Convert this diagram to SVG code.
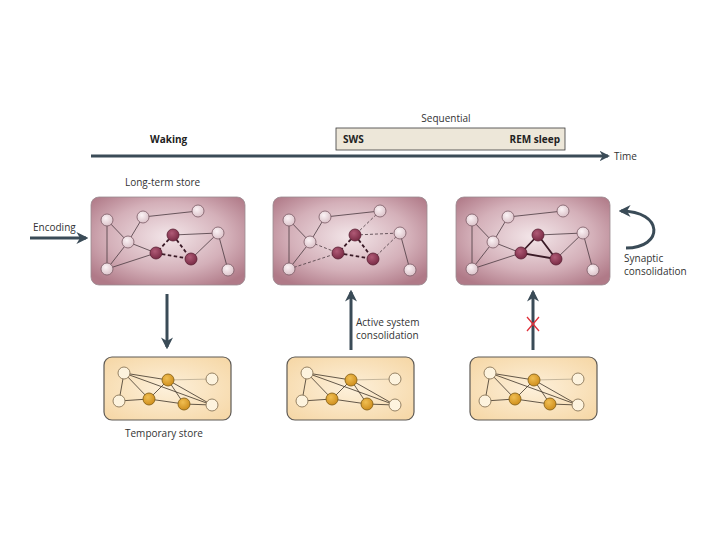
<svg xmlns="http://www.w3.org/2000/svg" width="720" height="540" viewBox="0 0 720 540">
<defs>
<radialGradient id="pink" cx="50%" cy="45%" r="65%">
<stop offset="0" stop-color="#f3e6e9"/>
<stop offset="0.6" stop-color="#d4b0b9"/>
<stop offset="1" stop-color="#b07a88"/>
</radialGradient>
<radialGradient id="tan" cx="50%" cy="50%" r="65%">
<stop offset="0" stop-color="#fdf0da"/>
<stop offset="1" stop-color="#f6d8a8"/>
</radialGradient>
<radialGradient id="ln" cx="40%" cy="35%" r="65%">
<stop offset="0" stop-color="#fbf3f5"/>
<stop offset="1" stop-color="#dcc3ca"/>
</radialGradient>
<radialGradient id="dn" cx="40%" cy="35%" r="65%">
<stop offset="0" stop-color="#b05a76"/>
<stop offset="1" stop-color="#7a2c46"/>
</radialGradient>
<radialGradient id="on" cx="40%" cy="35%" r="65%">
<stop offset="0" stop-color="#f0be52"/>
<stop offset="1" stop-color="#cf8f1e"/>
</radialGradient>
<marker id="ah" viewBox="0 0 10 10" refX="8" refY="5" markerWidth="4" markerHeight="4" orient="auto" markerUnits="strokeWidth">
<path d="M0,0 L10,5 L0,10 L3,5 Z" fill="#3a4b57"/>
</marker>
<marker id="ah2" viewBox="0 0 10 10" refX="8" refY="5" markerWidth="3.5" markerHeight="3.5" orient="auto" markerUnits="strokeWidth">
<path d="M0,0 L10,5 L0,10 L3,5 Z" fill="#3a4b57"/>
</marker>
<g id="ltnodes-light">
</g>
</defs>
<style>
text{font-family:"Open Sans","Liberation Sans",sans-serif;font-size:10px;fill:#333;}
.b{font-weight:bold;font-size:10px;fill:#222;}
.ltbox{fill:url(#pink);stroke:#9a8a90;stroke-width:0.8;}
.tbox{fill:url(#tan);stroke:#5e5a55;stroke-width:1.2;}
.ln{fill:url(#ln);stroke:#7a5a64;stroke-width:0.8;}
.dn{fill:url(#dn);stroke:#5a2034;stroke-width:0.8;}
.tl{fill:#fdf3de;stroke:#8a7658;stroke-width:0.9;}
.to{fill:url(#on);stroke:#8a6418;stroke-width:0.9;}
.e{stroke:#4a3a40;stroke-width:0.8;fill:none;}
.ed{stroke:#4a3a40;stroke-width:0.8;fill:none;stroke-dasharray:3,2;}
.tk{stroke:#3a1a26;stroke-width:1.8;fill:none;}
.tkd{stroke:#3a1a26;stroke-width:1.8;fill:none;stroke-dasharray:3.5,2.5;}
.te{stroke:#3e3428;stroke-width:0.8;fill:none;}
.tw{stroke:#b8aa90;stroke-width:0.8;fill:none;}
.arr{stroke:#3a4b57;stroke-width:3;fill:none;}
</style>

<g id="timeline">
<text x="446" y="122" text-anchor="middle">Sequential</text>
<rect x="336" y="128" width="229" height="22" fill="#ede7d9" stroke="#3a3a3a" stroke-width="0.8"/>
<text class="b" x="343" y="143">SWS</text>
<text class="b" x="560" y="143" text-anchor="end">REM sleep</text>
<text class="b" x="150" y="143">Waking</text>
<line x1="91" y1="156" x2="608" y2="156" stroke="#3a4b57" stroke-width="3" marker-end="url(#ah2)"/>
<text x="614" y="160">Time</text>
<text x="125" y="186">Long-term store</text>
<text x="125" y="437">Temporary store</text>
</g>

<g id="connectors">
<line x1="30" y1="238" x2="86" y2="238" class="arr" marker-end="url(#ah)"/>
<text x="33" y="231">Encoding</text>
<line x1="167" y1="294" x2="167" y2="347" class="arr" marker-end="url(#ah)"/>
<line x1="351" y1="350" x2="351" y2="292" class="arr" marker-end="url(#ah)"/>
<line x1="533" y1="350" x2="533" y2="292" class="arr" marker-end="url(#ah)"/>
<path d="M527,317 L539,331 M539,317 L527,331" stroke="#e0303a" stroke-width="1.3"/>
<text x="356" y="326">Active system</text>
<text x="356" y="339">consolidation</text>
<path d="M626,248 C664,248 664,211 621,211" class="arr" marker-end="url(#ah)"/>
<text x="624" y="262">Synaptic</text>
<text x="624" y="275">consolidation</text>
</g>

<g id="lt1">
<rect class="ltbox" x="91" y="197" width="154" height="88" rx="8"/>
<path class="e" d="M107,220 L107,269 M107,220 L128,242 L156,253 M143,217 L198,211 M143,217 L128,242 L107,269 M107,269 L156,253 M173,235 L218,233 M218,233 L191,259 M218,233 L228,270"/>
<path class="tkd" d="M173,235 L156,253 M173,235 L191,259 M156,253 L191,259"/>
<circle class="ln" cx="107" cy="220" r="6"/><circle class="ln" cx="143" cy="217" r="6"/><circle class="ln" cx="198" cy="211" r="6"/>
<circle class="ln" cx="218" cy="233" r="6"/><circle class="ln" cx="128" cy="242" r="6"/><circle class="ln" cx="107" cy="269" r="6"/><circle class="ln" cx="228" cy="270" r="6"/>
<circle class="dn" cx="173" cy="235" r="6"/><circle class="dn" cx="156" cy="253" r="6"/><circle class="dn" cx="191" cy="259" r="6"/>
</g>

<g id="lt2" transform="translate(182,0)">
<rect class="ltbox" x="91" y="197" width="154" height="88" rx="8"/>
<path class="e" d="M107,220 L107,269 M107,220 L128,242 M143,217 L198,211 M143,217 L128,242 L107,269 M218,233 L228,270"/>
<path class="ed" d="M128,242 L156,253 M107,269 L156,253 M173,235 L218,233 M218,233 L191,259 M198,211 L173,235"/>
<path class="tkd" d="M173,235 L156,253 M173,235 L191,259 M156,253 L191,259"/>
<circle class="ln" cx="107" cy="220" r="6"/><circle class="ln" cx="143" cy="217" r="6"/><circle class="ln" cx="198" cy="211" r="6"/>
<circle class="ln" cx="218" cy="233" r="6"/><circle class="ln" cx="128" cy="242" r="6"/><circle class="ln" cx="107" cy="269" r="6"/><circle class="ln" cx="228" cy="270" r="6"/>
<circle class="dn" cx="173" cy="235" r="6"/><circle class="dn" cx="156" cy="253" r="6"/><circle class="dn" cx="191" cy="259" r="6"/>
</g>

<g id="lt3" transform="translate(365,0)">
<rect class="ltbox" x="91" y="197" width="154" height="88" rx="8"/>
<path class="e" d="M107,220 L107,269 M107,220 L128,242 L156,253 M143,217 L198,211 M143,217 L128,242 L107,269 M107,269 L156,253 M173,235 L218,233 M218,233 L191,259 M218,233 L228,270"/>
<path class="tk" d="M173,235 L156,253 M173,235 L191,259 M156,253 L191,259"/>
<circle class="ln" cx="107" cy="220" r="6"/><circle class="ln" cx="143" cy="217" r="6"/><circle class="ln" cx="198" cy="211" r="6"/>
<circle class="ln" cx="218" cy="233" r="6"/><circle class="ln" cx="128" cy="242" r="6"/><circle class="ln" cx="107" cy="269" r="6"/><circle class="ln" cx="228" cy="270" r="6"/>
<circle class="dn" cx="173" cy="235" r="6"/><circle class="dn" cx="156" cy="253" r="6"/><circle class="dn" cx="191" cy="259" r="6"/>
</g>

<g id="ts1">
<rect class="tbox" x="104" y="357" width="127" height="63" rx="8"/>
<path class="tw" d="M168,380 L212,379"/>
<path class="te" d="M124,373 L119,401 M124,373 L149,399 M124,373 L168,380 M124,373 L212,405 M168,380 L149,399 M168,380 L184,404 M168,380 L212,405 M149,399 L184,404 L212,405 M119,401 L149,399"/>
<circle class="tl" cx="124" cy="373" r="6"/><circle class="tl" cx="212" cy="379" r="6"/><circle class="tl" cx="119" cy="401" r="6"/><circle class="tl" cx="212" cy="405" r="6"/>
<circle class="to" cx="168" cy="380" r="6"/><circle class="to" cx="149" cy="399" r="6"/><circle class="to" cx="184" cy="404" r="6"/>
</g>

<g id="ts2" transform="translate(183,0)">
<rect class="tbox" x="104" y="357" width="127" height="63" rx="8"/>
<path class="tw" d="M168,380 L212,379"/>
<path class="te" d="M124,373 L119,401 M124,373 L149,399 M124,373 L168,380 M124,373 L212,405 M168,380 L149,399 M168,380 L184,404 M168,380 L212,405 M149,399 L184,404 L212,405 M119,401 L149,399"/>
<circle class="tl" cx="124" cy="373" r="6"/><circle class="tl" cx="212" cy="379" r="6"/><circle class="tl" cx="119" cy="401" r="6"/><circle class="tl" cx="212" cy="405" r="6"/>
<circle class="to" cx="168" cy="380" r="6"/><circle class="to" cx="149" cy="399" r="6"/><circle class="to" cx="184" cy="404" r="6"/>
</g>

<g id="ts3" transform="translate(366,0)">
<rect class="tbox" x="104" y="357" width="127" height="63" rx="8"/>
<path class="tw" d="M168,380 L212,379"/>
<path class="te" d="M124,373 L119,401 M124,373 L149,399 M124,373 L168,380 M124,373 L212,405 M168,380 L149,399 M168,380 L184,404 M168,380 L212,405 M149,399 L184,404 L212,405 M119,401 L149,399"/>
<circle class="tl" cx="124" cy="373" r="6"/><circle class="tl" cx="212" cy="379" r="6"/><circle class="tl" cx="119" cy="401" r="6"/><circle class="tl" cx="212" cy="405" r="6"/>
<circle class="to" cx="168" cy="380" r="6"/><circle class="to" cx="149" cy="399" r="6"/><circle class="to" cx="184" cy="404" r="6"/>
</g>
</svg>
